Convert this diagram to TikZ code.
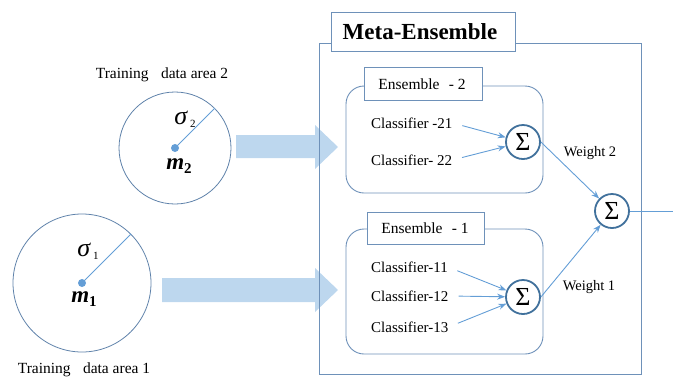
\documentclass[tikz,border=0pt]{standalone}
\usepackage{fontspec}
\setmainfont{Liberation Serif}
\usetikzlibrary{arrows.meta}
\definecolor{boxc}{RGB}{110,145,185}
\definecolor{linec}{RGB}{100,158,214}
\definecolor{sigc}{RGB}{65,113,156}
\definecolor{arrc}{RGB}{189,215,238}
\definecolor{circc}{RGB}{95,130,170}
\begin{document}
\begin{tikzpicture}[x=1pt,y=-1pt,
  lbl/.style={font=\fontsize{15.5}{18}\selectfont, inner sep=0pt},
  clf/.style={font=\fontsize{15}{18}\selectfont, inner sep=0pt, anchor=west},
  sumnode/.style={circle, draw=sigc, line width=1.8pt, minimum size=34pt, inner sep=0pt, fill=white, font=\fontsize{26}{26}\selectfont},
  datacirc/.style={circle, draw=circc, line width=0.8pt, inner sep=0pt},
  dotnode/.style={circle, fill=linec, minimum size=8pt, inner sep=0pt},
  conn/.style={draw=linec, line width=0.9pt, -{Stealth[length=8pt,width=6pt]}},
  bigarrow/.style={fill=arrc, draw=none},
  ensbox/.style={draw=boxc, line width=0.9pt, rounded corners=18pt},
  tagbox/.style={draw=boxc, line width=0.9pt, fill=white}
]
\useasboundingbox (0,0) rectangle (673,376);

% training areas
\node[datacirc, minimum size=112pt] (c2) at (175,148) {};
\node[dotnode] (d2) at (175,148) {};
\draw[linec, line width=0.9pt] (d2.center) -- (c2.45);
\node[lbl] (t2) at (162,75) {Training\hspace{0.8em}data area 2};
\node[inner sep=0pt] (s2lbl) at (185,119) {{\fontsize{26}{26}\selectfont\itshape σ}\hspace{3pt}\raisebox{-3pt}{\fontsize{11}{11}\selectfont 2}};
\node[inner sep=0pt] (m2lbl) at (179,166) {{\fontsize{23}{23}\selectfont\bfseries\itshape m}\raisebox{-4pt}{\fontsize{15}{15}\selectfont\bfseries 2}};

\node[datacirc, minimum size=138pt] (c1) at (82,283) {};
\node[dotnode] (d1) at (82,283) {};
\draw[linec, line width=0.9pt] (d1.center) -- (c1.45);
\node[lbl] (t1) at (84,370) {Training\hspace{0.8em}data area 1};
\node[inner sep=0pt] (s1lbl) at (88,251) {{\fontsize{26}{26}\selectfont\itshape σ}\hspace{3pt}\raisebox{-3pt}{\fontsize{11}{11}\selectfont 1}};
\node[inner sep=0pt] (m1lbl) at (84,299) {{\fontsize{23}{23}\selectfont\bfseries\itshape m}\raisebox{-4pt}{\fontsize{15}{15}\selectfont\bfseries 1}};

% big arrows
\path[bigarrow] (236,135) -- (315,135) -- (315,125) -- (338,147) -- (315,169) -- (315,158) -- (236,158) -- cycle;
\path[bigarrow] (162,278) -- (315,278) -- (315,268) -- (338,290) -- (315,312) -- (315,302) -- (162,302) -- cycle;

% meta-ensemble
\draw[boxc, line width=0.9pt] (319,43) rectangle (641,374);
\draw[tagbox] (331,12) rectangle (515,51);
\node[inner sep=0pt, font=\fontsize{23}{23}\selectfont\bfseries] (meta) at (420,32) {Meta-Ensemble};

% ensemble 2
\draw[ensbox] (346,86) rectangle (543,193);
\draw[tagbox] (364,67) rectangle (482,100);
\node[lbl] (e2) at (422,84) {Ensemble\hspace{0.6em}- 2};
\node[clf] (c21) at (371,123) {Classifier -21};
\node[clf] (c22) at (371,160) {Classifier- 22};
\node[sumnode] (s2) at (523,142) {Σ};
\draw[conn, shorten <=10pt] (c21.east) -- (s2);
\draw[conn, shorten <=10pt] (c22.east) -- (s2);

% ensemble 1
\draw[ensbox] (346,229) rectangle (543,354);
\draw[tagbox] (367,212) rectangle (484,244);
\node[lbl] (e1) at (425,228) {Ensemble\hspace{0.6em}- 1};
\node[clf] (c11) at (371,267) {Classifier-11};
\node[clf] (c12) at (371,296) {Classifier-12};
\node[clf] (c13) at (371,327) {Classifier-13};
\node[sumnode] (s1) at (523,297) {Σ};
\draw[conn, shorten <=10pt] (c11.east) -- (s1);
\draw[conn, shorten <=10pt] (c12.east) -- (s1);
\draw[conn, shorten <=10pt] (c13.east) -- (s1);

% final
\node[sumnode] (sf) at (612,211) {Σ};
\draw[conn] (s2.east) -- (sf);
\draw[conn] (s1.east) -- (sf);
\node[lbl, font=\fontsize{14.5}{17}\selectfont] (w2) at (590,153) {Weight 2};
\node[lbl, font=\fontsize{14.5}{17}\selectfont] (w1) at (589,287) {Weight 1};
\coordinate (out) at (673,211);
\draw[linec, line width=0.9pt] (sf.east) -- (out);
\end{tikzpicture}
\end{document}
